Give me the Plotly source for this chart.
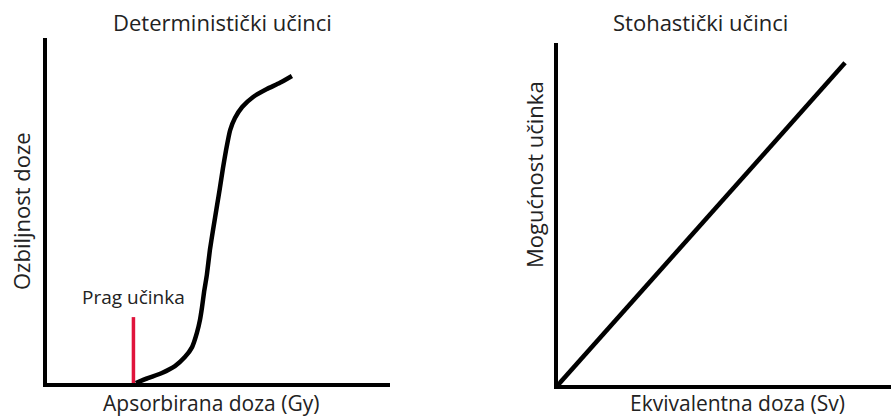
import plotly.graph_objects as go

W, H = 891, 418

# Left panel: deterministic effects (arbitrary units 0-10)
det_x = [2.59, 2.94, 3.35, 3.73, 4.02, 4.23, 4.37, 4.46, 4.52, 4.58, 4.66, 4.75,
         4.84, 4.96, 5.04, 5.13, 5.22, 5.34, 5.48, 5.69, 6.01, 6.41, 6.79, 7.14]
det_y = [0.00, 0.14, 0.29, 0.49, 0.75, 1.04, 1.45, 1.83, 2.20, 2.64, 3.13, 3.86,
         4.43, 5.16, 5.65, 6.23, 6.75, 7.33, 7.68, 8.00, 8.29, 8.52, 8.70, 8.90]
threshold_x = [2.52, 2.52]
threshold_y = [0.0, 1.91]

# Right panel: stochastic effects (linear, no threshold)
sto_x = [0.0, 8.62]
sto_y = [0.0, 9.42]

titles = ["Deterministički učinci", "Stohastički učinci"]
xlabels = ["Apsorbirana doza (Gy)", "Ekvivalentna doza (Sv)"]
ylabels = ["Ozbiljnost doze", "Mogućnost učinka"]
threshold_label = "Prag učinka"

FONT = "Open Sans, Noto Sans, sans-serif"
TXT = "#222222"

fig = go.Figure()
fig.add_trace(go.Scatter(x=threshold_x, y=threshold_y, mode="lines",
                         line=dict(color="#E0143C", width=3.5),
                         xaxis="x", yaxis="y", hoverinfo="skip"))
fig.add_trace(go.Scatter(x=det_x, y=det_y, mode="lines",
                         line=dict(color="black", width=4.5, shape="spline", smoothing=0.5),
                         xaxis="x", yaxis="y", hoverinfo="skip"))
fig.add_trace(go.Scatter(x=sto_x, y=sto_y, mode="lines",
                         line=dict(color="black", width=4.5),
                         xaxis="x2", yaxis="y2", hoverinfo="skip"))

ax_common = dict(range=[0, 10], showgrid=False, zeroline=False, showticklabels=False,
                 ticks="", showline=True, linecolor="black", linewidth=4, fixedrange=True)

fig.update_layout(
    width=W, height=H,
    margin=dict(l=0, r=0, t=0, b=0),
    paper_bgcolor="white", plot_bgcolor="white",
    showlegend=False,
    xaxis=dict(domain=[47 / W, 390 / W], anchor="y", **ax_common),
    yaxis=dict(domain=[1 - 383 / H, 1 - 38 / H], anchor="x", **ax_common),
    xaxis2=dict(domain=[558 / W, 1.0], anchor="y2", **ax_common),
    yaxis2=dict(domain=[1 - 385 / H, 1 - 43 / H], anchor="x2", **ax_common),
    font=dict(family=FONT, color=TXT),
)


def label(text, px, py, size, angle=0):
    return dict(text=text, x=px / W, y=1 - py / H, xref="paper", yref="paper",
                xanchor="center", yanchor="middle", showarrow=False, textangle=angle,
                font=dict(size=size, family=FONT, color=TXT))


ann = [
    label(titles[0], 222, 22, 22),
    label(titles[1], 700, 22, 22),
    label(xlabels[0], 211, 403, 21),
    label(xlabels[1], 737, 403, 21),
    label(ylabels[0], 21, 211, 22, -90),
    label(ylabels[1], 534, 175, 22, -90),
    dict(text=threshold_label, x=threshold_x[0], y=2.5, xref="x", yref="y",
         xanchor="center", yanchor="middle", showarrow=False,
         font=dict(size=19, family=FONT, color=TXT)),
]
fig.update_layout(annotations=ann)

fig.write_html("out.html", config={"displayModeBar": False},
               post_script="document.body.style.margin='0';")
